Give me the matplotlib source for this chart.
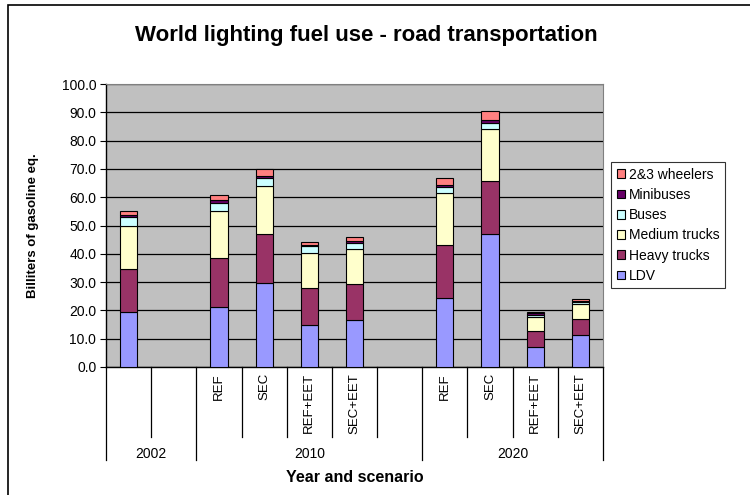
import numpy as np
import matplotlib
matplotlib.use('Agg')
import matplotlib.pyplot as plt
from matplotlib.patches import Rectangle
import matplotlib.transforms as mtransforms

plt.rcParams['font.family'] = ['Liberation Sans', 'DejaVu Sans']

# ── data ───────────────────────────────────────────────
slots = [0, 2, 3, 4, 5, 7, 8, 9, 10]          # bar slots (1 and 6 are empty)
scenario_labels = ['', '', 'REF', 'SEC', 'REF+EET', 'SEC+EET', '',
                   'REF', 'SEC', 'REF+EET', 'SEC+EET']
years = ['2002', '2010', '2020']
year_spans = [(0, 1), (2, 6), (7, 10)]

ldv = [19.3, 21.3, 29.6, 14.8, 16.6, 24.4, 47.0, 7.2, 11.2]
heavy = [15.4, 17.3, 17.4, 13.0, 12.7, 18.7, 18.7, 5.5, 5.7]
medium = [15.0, 16.4, 16.9, 12.4, 12.3, 18.3, 18.3, 5.1, 5.3]
buses = [3.2, 3.1, 2.8, 2.6, 2.3, 2.1, 2.1, 0.7, 0.7]
minibuses = [0.8, 0.9, 0.9, 0.3, 0.7, 0.7, 1.3, 0.5, 0.5]
wheelers = [1.4, 1.9, 2.3, 1.2, 1.3, 2.7, 3.1, 0.5, 0.7]

series = [('LDV', ldv, '#9999FF'),
          ('Heavy trucks', heavy, '#993366'),
          ('Medium trucks', medium, '#FFFFCC'),
          ('Buses', buses, '#CCFFFF'),
          ('Minibuses', minibuses, '#660066'),
          ('2&3 wheelers', wheelers, '#FF8080')]

# ── figure ─────────────────────────────────────────────
fig = plt.figure(figsize=(7.5, 4.95), dpi=100)
fig.patches.append(Rectangle((8 / 750, -0.1), 1.2, 1.1 - 5 / 495,
                             transform=fig.transFigure, fill=False,
                             edgecolor='black', lw=1.2))

ax = fig.add_axes([106 / 750, 1 - 367 / 495, 497 / 750, (367 - 84) / 495])
ax.set_facecolor('#C0C0C0')

bottom = np.zeros(len(slots))
handles = []
for name, vals, col in series:
    h = ax.bar(slots, vals, width=0.38, bottom=bottom, color=col,
               edgecolor='black', linewidth=0.8, label=name, zorder=3)
    bottom += np.array(vals)
    handles.append(h)

ax.set_xlim(-0.5, 10.5)
ax.set_ylim(0, 100)
ax.set_yticks(np.arange(0, 101, 10))
ax.set_yticklabels([f'{v:.1f}' for v in range(0, 101, 10)], fontsize=10)
ax.yaxis.grid(True, color='black', lw=0.9, zorder=0)
ax.tick_params(axis='y', direction='out', length=4, width=0.8, pad=3)
ax.set_xticks([])
for s in ('top', 'right'):
    ax.spines[s].set_color('#808080')
ax.spines['left'].set_linewidth(1.0)
ax.spines['bottom'].set_linewidth(1.0)

ax.set_ylabel('Billiters of gasoline eq.', fontsize=9.5, fontweight='bold')
ax.yaxis.set_label_coords((39 - 106) / 497, 0.5)

# multi-level category axis
tr = mtransforms.blended_transform_factory(ax.transData, ax.transAxes)
px_y = 1 / (367 - 84)
short_end = -(437 - 367) * px_y
long_end = -(460 - 367) * px_y
group_edges = [s[0] - 0.5 for s in year_spans] + [10.5]
for i in range(12):
    x = i - 0.5
    end = long_end if x in group_edges else short_end
    ax.plot([x, x], [0, end], color='black', lw=0.9, transform=tr,
            clip_on=False)
for i, lab in enumerate(scenario_labels):
    if lab:
        ax.text(i, -6 * px_y, lab, rotation=90, ha='center', va='top',
                fontsize=9.5, transform=tr)
for yr, (a, b) in zip(years, year_spans):
    ax.text((a + b) / 2, -(454 - 367) * px_y, yr, ha='center', va='center',
            fontsize=10, transform=tr)
fig.text(355 / 750, 1 - 478 / 495, 'Year and scenario', ha='center',
         va='center', fontsize=11.5, fontweight='bold')

fig.text(366 / 750, 1 - 35 / 495,
         'World lighting fuel use - road transportation', ha='center',
         va='center', fontsize=16, fontweight='bold')

leg = fig.legend(handles[::-1], [s[0] for s in series][::-1],
                 loc='upper left', bbox_to_anchor=(611 / 750, 1 - 162 / 495),
                 fontsize=10, frameon=True, fancybox=False, handlelength=0.6,
                 handleheight=0.6, handletextpad=0.3, labelspacing=0.45,
                 borderpad=0.4, borderaxespad=0)
leg.get_frame().set_edgecolor('black')
leg.get_frame().set_linewidth(0.8)

fig.savefig('out.png', dpi=100)
